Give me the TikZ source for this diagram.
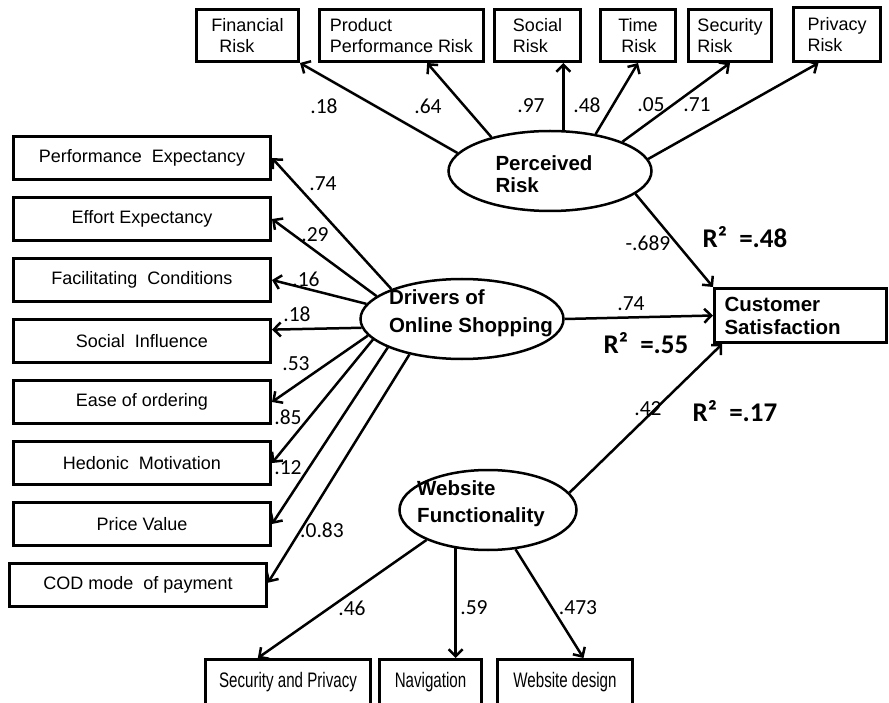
\documentclass[tikz,border=0pt]{standalone}
\usepackage{graphicx}
\usepackage{fontspec}
\setmainfont{Liberation Sans}
\newfontfamily\numfont{Carlito}
\usetikzlibrary{arrows.meta,positioning,shapes.geometric}

\newcommand{\thintext}[1]{\scalebox{0.72}[1]{#1}}

\tikzset{
  item/.style={draw, rectangle, line width=3pt, inner sep=0pt, align=left,
    font=\fontsize{18}{21}\selectfont},
  riskbox/.style={item, anchor=north west, minimum height=52pt},
  drv/.style={item, minimum width=257pt, minimum height=43pt},
  wbox/.style={item, anchor=north west, text height=16pt, text depth=40pt,
    inner ysep=12pt, font=\fontsize{21}{21}\selectfont},
  factor/.style={draw, ellipse, line width=2.5pt, inner sep=0pt,
    minimum width=203pt, minimum height=80pt},
  ftext/.style={align=left, inner sep=0pt,
    font=\fontsize{20.5}{22}\selectfont\bfseries},
  coef/.style={inner sep=0pt, font=\fontsize{21.5}{21.5}\selectfont\numfont},
  rsq/.style={inner sep=0pt, font=\fontsize{27}{27}\selectfont\numfont\bfseries},
}

\begin{document}
\begin{tikzpicture}[x=1pt,y=-1pt,node distance=61pt,on grid,line width=2.5pt,
    >={Straight Barb[length=7pt,width=14pt]}]
\useasboundingbox (0,0) rectangle (889,703);

% latent constructs
\node[factor] (PR) at (550,171) {};
\node[factor] (DOS) at (462,319) {};
\node[factor, minimum width=177pt] (WF) at (488,510) {};
\node[ftext] (PR_t) at (544,174) {Perceived\\Risk};
\node[ftext, font=\fontsize{20.5}{28}\selectfont\bfseries] (DOS_t) at (471,313) {Drivers of\\Online Shopping};
\node[ftext, font=\fontsize{20.5}{27}\selectfont\bfseries] (WF_t) at (481,504) {Website\\Functionality};

% perceived risk items
\node[riskbox, minimum width=102pt] (r_1) at (195,8) {Financial\\\hspace*{8pt}Risk};
\node[riskbox, minimum width=164pt] (r_2) at (318,8) {Product\\Performance Risk};
\node[riskbox, minimum width=86pt] (r_3) at (493,8) {Social\\Risk};
\node[riskbox, minimum width=75pt] (r_4) at (599,8) {Time\\\hspace*{3pt}Risk};
\node[riskbox, minimum width=83pt] (r_5) at (687,8) {Security\\Risk};
\node[riskbox, minimum width=87pt, minimum height=54pt] (r_6) at (792,6) {Privacy\\Risk};

% drivers items
\node[drv] (d_1) at (142,158) {Performance\ \ Expectancy};
\node[drv] (d_2) [below=of d_1] {Effort Expectancy};
\node[drv] (d_3) [below=of d_2] {Facilitating\ \ Conditions};
\node[drv] (d_4) [below=of d_3] {Social\ \ Influence};
\node[drv] (d_5) [below=of d_4] {Ease of ordering};
\node[drv] (d_6) [below=of d_5] {Hedonic\ \ Motivation};
\node[drv] (d_7) [below=of d_6] {Price Value};
\node[drv] (d_8) [below=of d_7, xshift=-4pt] {COD mode\ \ of payment};

% website items
\node[wbox, minimum width=165pt] (w_1) at (204,658) {\thintext{Security and Privacy}};
\node[wbox, minimum width=102pt] (w_2) at (378,658) {\thintext{Navigation}};
\node[wbox, minimum width=135pt] (w_3) at (496,658) {\thintext{Website design}};

% outcome
\node[item, anchor=north west, text width=152pt, inner xsep=10pt, minimum height=54pt,
  font=\fontsize{20.5}{23}\selectfont\bfseries] (CS) at (713,287) {Customer\\Satisfaction};

\path[->]
    (PR.169) edge (r_1.south east)
    (PR.150) edge (r_2.-47)
    (PR.72) edge (PR.72 |- r_3.south)
    (PR.39) edge (r_4.south)
    (PR.22) edge (r_5.south)
    (PR.7) edge (r_6.-123)
    (PR.-15) edge (CS.north west)
    (DOS.east) edge (CS.west)
    (WF.12) edge (CS.200);
\path[->]
    (DOS.157) edge (d_1.east)
    (DOS.165) edge (d_2.east)
    (DOS.171) edge (d_3.east)
    (DOS.185) edge (d_4.5)
    (DOS.190) edge (d_5.east)
    (DOS.193) edge (d_6.east)
    (DOS.201) edge (d_7.east)
    (DOS.214) edge (d_8.1);
\path[->]
    (WF.206) edge (w_1.126)
    (WF.230) edge (WF.230 |- w_2.north)
    (WF.305) edge (w_3.66);

% loadings and paths
\node[coef] (c_1) at (324,106) {.18};
\node[coef] (c_2) at (428,106) {.64};
\node[coef] (c_3) at (531,106) {.97};
\node[coef] (c_4) at (587,105) {.48};
\node[coef] (c_5) at (651,105) {.05};
\node[coef] (c_6) at (697,105) {.71};
\node[coef] (c_7) at (648,243) {-.689};
\node[coef] (c_8) at (631,304) {.74};
\node[coef] (c_9) at (648,409) {.42};
\node[coef] (e_1) at (323,184) {.74};
\node[coef] (e_2) at (315,235) {.29};
\node[coef] (e_3) at (306,279) {.16};
\node[coef] (e_4) at (297,314) {.18};
\node[coef] (e_5) at (296,364) {.53};
\node[coef] (e_6) at (288,417) {.85};
\node[coef] (e_7) at (288,468) {.12};
\node[coef] (e_8) at (322,530) {.0.83};
\node[coef] (f_1) at (352,608) {.46};
\node[coef] (f_2) at (474,608) {.59};
\node[coef] (f_3) at (578,608) {.473};
\node[rsq] (rsq_1) at (745,237) {R²\ \ =.48};
\node[rsq] (rsq_2) at (646,343) {R²\ \ =.55};
\node[rsq] (rsq_3) at (735,411) {R²\ \ =.17};
\end{tikzpicture}
\end{document}
